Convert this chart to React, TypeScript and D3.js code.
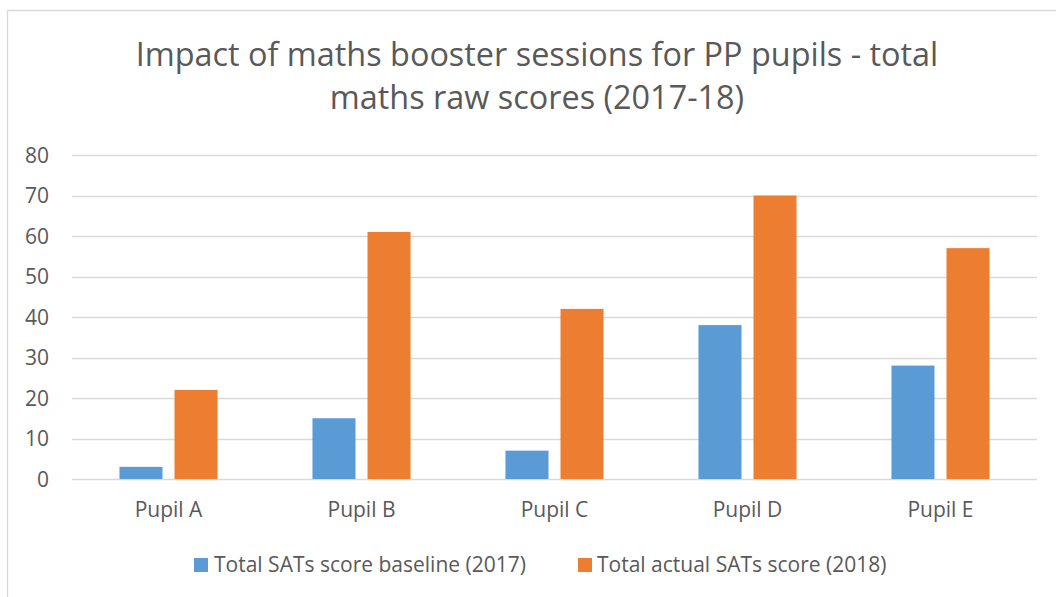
import React, { useEffect } from "react";
import * as d3 from "d3";

const categories = ["Pupil A", "Pupil B", "Pupil C", "Pupil D", "Pupil E"];
const seriesNames = ["Total SATs score baseline (2017)", "Total actual SATs score (2018)"];
const baseline2017 = [3, 15, 7, 38, 28];
const actual2018 = [22, 61, 42, 70, 57];
const yTicks = [0, 10, 20, 30, 40, 50, 60, 70, 80];
const titleLines = ["Impact of maths booster sessions for PP pupils - total", "maths raw scores (2017-18)"];

const colors = ["#5B9BD5", "#ED7D31"];
const W = 1056;
const H = 597;
const FONT = "'Open Sans', sans-serif";
const TEXT = "#595959";
const GRID = "#D9D9D9";

export default function App() {
  useEffect(() => {
    document.body.style.margin = "0";
  }, []);

  const plotLeft = 72;
  const plotRight = 1037;
  const y = d3.scaleLinear().domain([0, 80]).range([479, 155]);
  const x0 = d3.scaleBand<string>().domain(categories).range([plotLeft, plotRight]).paddingInner(0.492).paddingOuter(0.246);
  const x1 = d3.scaleBand<string>().domain(seriesNames).range([0, x0.bandwidth()]).paddingInner(0.218).paddingOuter(0);
  const series = [baseline2017, actual2018];

  const legendItems = [
    { sq: 194, tx: 214 },
    { sq: 578, tx: 597 },
  ];

  return (
    <svg width={W} height={H} style={{ display: "block", background: "#fff" }} fontFamily={FONT}>
      <rect x={0} y={0} width={W} height={H} fill="#fff" />
      <line x1={7.5} y1={10.5} x2={W} y2={10.5} stroke={GRID} strokeWidth={1.3} />
      <line x1={7.5} y1={10.5} x2={7.5} y2={H} stroke={GRID} strokeWidth={1.3} />
      {titleLines.map((t, i) => (
        <text key={i} x={537} y={66 + i * 43} textAnchor="middle" fontSize={32.4} fill={TEXT}>
          {t}
        </text>
      ))}
      {yTicks.map((t) => (
        <g key={t}>
          <line x1={plotLeft} x2={plotRight} y1={Math.round(y(t)) + 0.5} y2={Math.round(y(t)) + 0.5} stroke={GRID} strokeWidth={1.3} />
          <text x={49} y={y(t)} dy="0.36em" textAnchor="end" fontSize={21} fill={TEXT}>
            {t}
          </text>
        </g>
      ))}
      {categories.map((c, ci) => (
        <g key={c} transform={`translate(${x0(c)},0)`}>
          {series.map((vals, si) => (
            <rect
              key={si}
              x={x1(seriesNames[si])}
              y={y(vals[ci])}
              width={x1.bandwidth()}
              height={y(0) - y(vals[ci])}
              fill={colors[si]}
            />
          ))}
          <text x={x0.bandwidth() / 2} y={517} textAnchor="middle" fontSize={21} fill={TEXT}>
            {c}
          </text>
        </g>
      ))}
      {seriesNames.map((s, i) => (
        <g key={s}>
          <rect x={legendItems[i].sq} y={558} width={14} height={14} fill={colors[i]} />
          <text x={legendItems[i].tx} y={572} fontSize={21} fill={TEXT}>
            {s}
          </text>
        </g>
      ))}
    </svg>
  );
}
